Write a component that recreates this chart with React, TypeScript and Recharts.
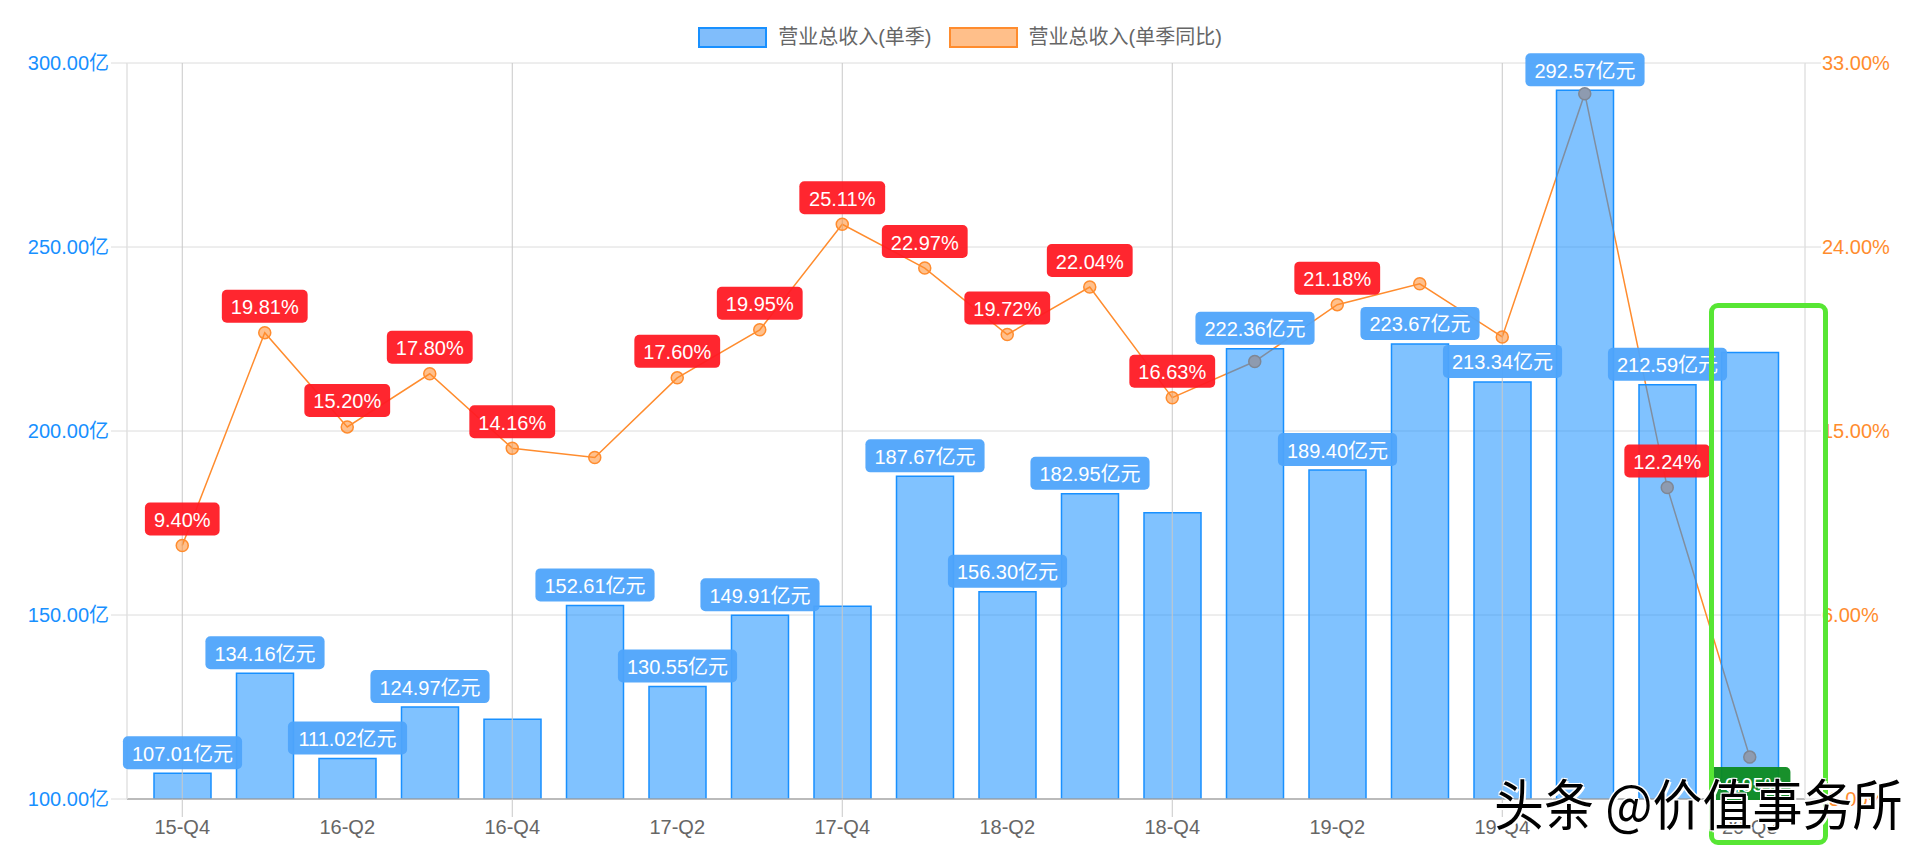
import { ComposedChart, Bar, Line, XAxis, YAxis, CartesianGrid, ReferenceLine, LabelList } from 'recharts';

const quarters = [
  '15-Q4', '16-Q1', '16-Q2', '16-Q3', '16-Q4', '17-Q1', '17-Q2', '17-Q3', '17-Q4', '18-Q1',
  '18-Q2', '18-Q3', '18-Q4', '19-Q1', '19-Q2', '19-Q3', '19-Q4', '20-Q1', '20-Q2', '20-Q3',
];
// 营业总收入(单季), 亿元
const revenue = [
  107.01, 134.16, 111.02, 124.97, 121.7, 152.61, 130.55, 149.91, 152.4, 187.67,
  156.3, 182.95, 177.8, 222.36, 189.4, 223.67, 213.34, 292.57, 212.59, 221.3,
];
// 营业总收入(单季同比), %
const yoy = [
  9.4, 19.81, 15.2, 17.8, 14.16, 13.7, 17.6, 19.95, 25.11, 22.97,
  19.72, 22.04, 16.63, 18.4, 21.18, 22.2, 19.6, 31.5, 12.24, -0.95,
];
// labels that the original chart hid because of overlap
const revenueLabelHidden = [4, 8, 12, 19];
const yoyLabelHidden = [5, 13, 15, 16, 17];

const leftDomain = [100, 300];
const rightDomain = [-3, 33];
const leftTicks = [100, 150, 200, 250, 300];
const rightTicks = [-3, 6, 15, 24, 33];
const xTicks = ['15-Q4', '16-Q2', '16-Q4', '17-Q2', '17-Q4', '18-Q2', '18-Q4', '19-Q2', '19-Q4', '20-Q3'];
const gridQuarters = ['15-Q4', '16-Q4', '17-Q4', '18-Q4', '19-Q4'];
const seriesNames = ['营业总收入(单季)', '营业总收入(单季同比)'];

const data = quarters.map((q, i) => ({ q, revenue: revenue[i], yoy: yoy[i] }));

const FONT = '"Liberation Sans", Arial, "Noto Sans CJK SC", sans-serif';

const textWidth = (s: string, size: number) => {
  let w = 0;
  for (const ch of s) {
    if (/[0-9]/.test(ch)) w += 0.556;
    else if (ch === '.') w += 0.278;
    else if (ch === '%') w += 0.889;
    else if (ch === '-') w += 0.333;
    else w += 1;
  }
  return w * size;
};

// is the yoy point hidden behind the (semi transparent) bar of the same quarter?
const dotUnderBar = (i: number) => {
  const t = (yoy[i] - rightDomain[0]) / (rightDomain[1] - rightDomain[0]);
  const asLeft = leftDomain[0] + t * (leftDomain[1] - leftDomain[0]);
  return asLeft < revenue[i];
};

const pickIndex = (props: any, arr: number[]) =>
  typeof props.index === 'number' ? props.index : arr.indexOf(Number(props.value));

const Tag = ({ cx, top, text, fill }: { cx: number; top: number; text: string; fill: string }) => {
  const w = textWidth(text, 20) + 18;
  const h = 33;
  return (
    <g>
      <rect x={cx - w / 2} y={top} width={w} height={h} rx={5} fill={fill} fillOpacity={0.95} />
      <text x={cx} y={top + h / 2 + 1} textAnchor="middle" dominantBaseline="central" fill="#fff" fontSize={20}>
        {text}
      </text>
    </g>
  );
};

const RevenueLabel = (props: any) => {
  const idx = pickIndex(props, revenue);
  if (revenueLabelHidden.includes(idx)) return null;
  const vb = props.viewBox || props;
  const x = vb.x ?? props.x;
  const y = vb.y ?? props.y;
  const width = vb.width ?? props.width;
  return <Tag cx={x + width / 2} top={y - 37} text={`${Number(props.value).toFixed(2)}亿元`} fill="#4ea4fb" />;
};

const YoyLabel = (props: any) => {
  const idx = pickIndex(props, yoy);
  if (yoyLabelHidden.includes(idx)) return null;
  const vb = props.viewBox || props;
  const x = vb.x ?? props.x;
  const y = vb.y ?? props.y;
  const v = Number(props.value);
  if (v < 0) return <Tag cx={x} top={y + 10} text={`${v.toFixed(2)}%`} fill="#0c8a20" />;
  return <Tag cx={x} top={y - 43} text={`${v.toFixed(2)}%`} fill="#ff1a24" />;
};

const YoyDot = (props: any) => {
  const { cx, cy, index } = props;
  if (cx == null || cy == null) return null;
  const hidden = dotUnderBar(index);
  return (
    <circle
      key={`dot-${index}`}
      cx={cx}
      cy={cy}
      r={6}
      fill={hidden ? '#8e9bb0' : 'rgba(255,140,46,0.55)'}
      stroke={hidden ? '#7f8794' : '#ff8c2e'}
      strokeWidth={1.5}
    />
  );
};

const QuarterTick = (props: any) => {
  const { x, y, payload } = props;
  return (
    <g>
      {gridQuarters.includes(payload.value) && <line x1={x} x2={x} y1={y - 20} y2={y - 2} stroke="#c8c8c8" />}
      <text x={x} y={y + 15} textAnchor="middle" fill="#666" fontSize={20}>
        {payload.value}
      </text>
    </g>
  );
};

export default function App() {
  return (
    <div style={{ position: 'absolute', left: 0, top: 0, width: 1920, height: 853, background: '#fff', fontFamily: FONT }}>
      <div
        style={{
          position: 'absolute', top: 27, left: 0, width: 1920, display: 'flex', justifyContent: 'center',
          alignItems: 'center', fontSize: 20, color: '#666', lineHeight: '21px',
        }}
      >
        <span style={{ width: 65, height: 17, background: '#80bdfb', border: '2px solid #1890ff', marginRight: 11 }} />
        <span style={{ marginRight: 17 }}>{seriesNames[0]}</span>
        <span style={{ width: 65, height: 17, background: '#ffbf8a', border: '2px solid #ff8c2e', marginRight: 11 }} />
        <span>{seriesNames[1]}</span>
      </div>

      <ComposedChart width={1920} height={853} data={data} margin={{ top: 63, right: 0, bottom: 0, left: 0 }}>
        <CartesianGrid yAxisId="left" vertical={false} stroke="#dcdcdc" />
        <XAxis
          dataKey="q"
          ticks={xTicks}
          interval={0}
          height={54}
          padding={{ left: 14, right: 14 }}
          tickSize={18}
          tickMargin={2}
          tickLine={false}
          axisLine={{ stroke: '#aaa', strokeWidth: 1.5 }}
          tick={<QuarterTick />}
        />
        <YAxis
          yAxisId="left"
          width={127}
          domain={leftDomain}
          ticks={leftTicks}
          tickFormatter={(v: number) => `${v.toFixed(2)}亿`}
          tick={{ fill: '#1890ff', fontSize: 20 }}
          tickSize={16}
          tickMargin={2}
          tickLine={{ stroke: '#dcdcdc' }}
          axisLine={{ stroke: '#e2e2e2', strokeWidth: 1.5 }}
          allowDataOverflow
        />
        <YAxis
          yAxisId="right"
          orientation="right"
          width={115}
          domain={rightDomain}
          ticks={rightTicks}
          tickFormatter={(v: number) => `${v.toFixed(2)}%`}
          tick={{ fill: '#ff8c2e', fontSize: 20 }}
          tickSize={16}
          tickMargin={1}
          tickLine={{ stroke: '#dcdcdc' }}
          axisLine={{ stroke: '#e2e2e2', strokeWidth: 1.5 }}
        />
        {gridQuarters.map((q) => (
          <ReferenceLine key={q} x={q} yAxisId="left" stroke="#c8c8c8" />
        ))}
        <Line
          yAxisId="right"
          dataKey="yoy"
          name={seriesNames[1]}
          stroke="#ff8c2e"
          strokeWidth={1.5}
          dot={<YoyDot />}
          activeDot={false}
          isAnimationActive={false}
          {...({ zIndex: 250 } as any)}
        />
        <Bar
          yAxisId="left"
          dataKey="revenue"
          name={seriesNames[0]}
          barSize={57}
          fill="rgba(24,144,255,0.55)"
          stroke="#1890ff"
          strokeWidth={1.5}
          isAnimationActive={false}
        >
          <LabelList dataKey="revenue" content={<RevenueLabel />} />
        </Bar>
        <Line
          yAxisId="right"
          dataKey="yoy"
          stroke="none"
          dot={false}
          activeDot={false}
          legendType="none"
          isAnimationActive={false}
        >
          <LabelList dataKey="yoy" content={<YoyLabel />} />
        </Line>
      </ComposedChart>

      <div
        style={{
          position: 'absolute', left: 1709, top: 303, width: 109, height: 532, border: '5px solid #57e634',
          borderRadius: 9, pointerEvents: 'none',
        }}
      />
      <div
        style={{
          position: 'absolute', left: 1494, top: 770, fontSize: 50, lineHeight: '56px', color: '#000',
          fontFamily: '"Noto Sans CJK SC", sans-serif', whiteSpace: 'nowrap',
          transform: 'scaleY(1.1)', transformOrigin: 'left top',
          textShadow: '2px 2px 0 #fff, -1px -1px 0 #fff, 1px -1px 0 #fff, -1px 1px 0 #fff',
        }}
      >
        头条 @价值事务所
      </div>
    </div>
  );
}
